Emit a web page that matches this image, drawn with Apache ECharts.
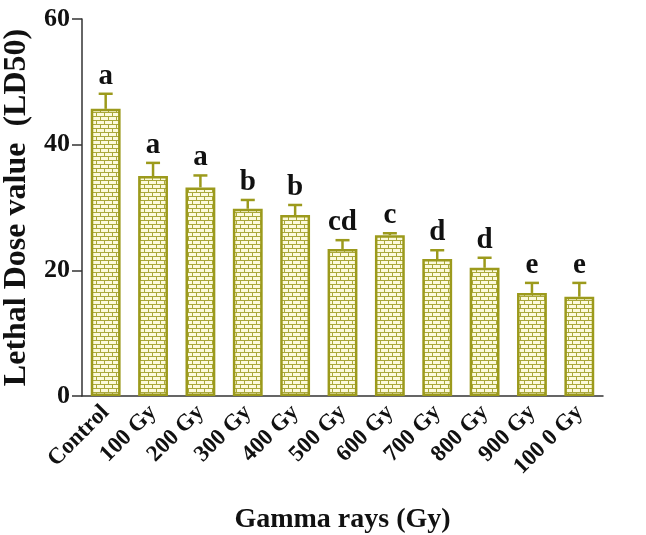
<!DOCTYPE html>
<html><head><meta charset="utf-8">
<script src="https://cdn.jsdelivr.net/npm/echarts@6/dist/echarts.min.js"></script>
<style>html,body{margin:0;padding:0;background:#fff}#c{width:646px;height:535px}</style>
</head><body><div id="c"></div>
<script>
const categories = ['Control','100 Gy','200 Gy','300 Gy','400 Gy','500 Gy','600 Gy','700 Gy','800 Gy','900 Gy','100 0 Gy'];
const means = [45.7, 35.0, 33.2, 29.8, 28.8, 23.4, 25.6, 21.8, 20.4, 16.4, 15.8];
const errors = [2.4, 2.1, 1.9, 1.4, 1.6, 1.4, 0.3, 1.4, 1.6, 1.6, 2.2];
const letters = ['a','a','a','b','b','cd','c','d','d','e','e'];
const yTicks = [0, 20, 40, 60];

const olive = '#9c9a1c';
const tile = document.createElement('canvas');
tile.width = 8; tile.height = 8;
const g = tile.getContext('2d');
g.fillStyle = '#aaa83a'; g.fillRect(0,0,8,8);
g.fillStyle = '#fcfadc';
g.fillRect(1,1,7,3); g.fillRect(0,5,4,3); g.fillRect(5,5,3,3);

const chart = echarts.init(document.getElementById('c'));
const font = '"Liberation Serif", "Times New Roman", serif';
chart.setOption({
  animation: false,
  grid: {left: 82, right: 43, top: 19, bottom: 139, outerBoundsMode: 'none', containLabel: false},
  xAxis: {
    type: 'category', data: categories,
    axisLine: {lineStyle: {color: '#333', width: 1.5}},
    axisTick: {alignWithLabel: true, length: 8, lineStyle: {color: '#333', width: 1.5}},
    axisLabel: {rotate: 45, fontFamily: font, fontWeight: 'bold', fontSize: 23, color: '#111', margin: 13, interval: 0},
    name: 'Gamma rays (Gy)', nameLocation: 'middle', nameGap: 110,
    nameTextStyle: {fontFamily: font, fontWeight: 'bold', fontSize: 28, color: '#111'}
  },
  yAxis: {
    type: 'value', min: 0, max: 60, interval: 20,
    axisLine: {show: true, lineStyle: {color: '#333', width: 1.5}},
    axisTick: {show: true, length: 10, lineStyle: {color: '#333', width: 1.5}},
    splitLine: {show: false},
    axisLabel: {fontFamily: font, fontWeight: 'bold', fontSize: 26, color: '#111', margin: 12,
      formatter: v => yTicks.includes(v) ? String(v) : ''},
    name: 'Lethal Dose value  (LD50)', nameLocation: 'middle', nameGap: 44,
    nameTextStyle: {fontFamily: font, fontWeight: 'bold', fontSize: 32, color: '#111'}
  },
  series: [{
    type: 'bar', data: means, barWidth: '63%',
    itemStyle: {color: {image: tile, repeat: 'repeat'}, borderColor: olive, borderWidth: 2.5}
  }, {
    type: 'custom',
    data: means.map((m, i) => [i, m, errors[i], letters[i]]),
    renderItem: (params, api) => {
      const i = api.value(0), m = api.value(1), e = api.value(2);
      const p0 = api.coord([i, m]);
      const p1 = api.coord([i, m + e]);
      const hw = 7;
      return {type: 'group', children: [
        {type: 'line', shape: {x1: p0[0], y1: p0[1], x2: p1[0], y2: p1[1]}, style: {stroke: olive, lineWidth: 2.5}},
        {type: 'line', shape: {x1: p1[0]-hw, y1: p1[1], x2: p1[0]+hw, y2: p1[1]}, style: {stroke: olive, lineWidth: 2.5}},
        {type: 'text', x: p1[0], y: p1[1] - 3, style: {text: letters[i], fill: '#111', font: 'bold 29px ' + font, align: 'center', verticalAlign: 'bottom'}}
      ]};
    },
    z: 3
  }]
});
</script></body></html>
